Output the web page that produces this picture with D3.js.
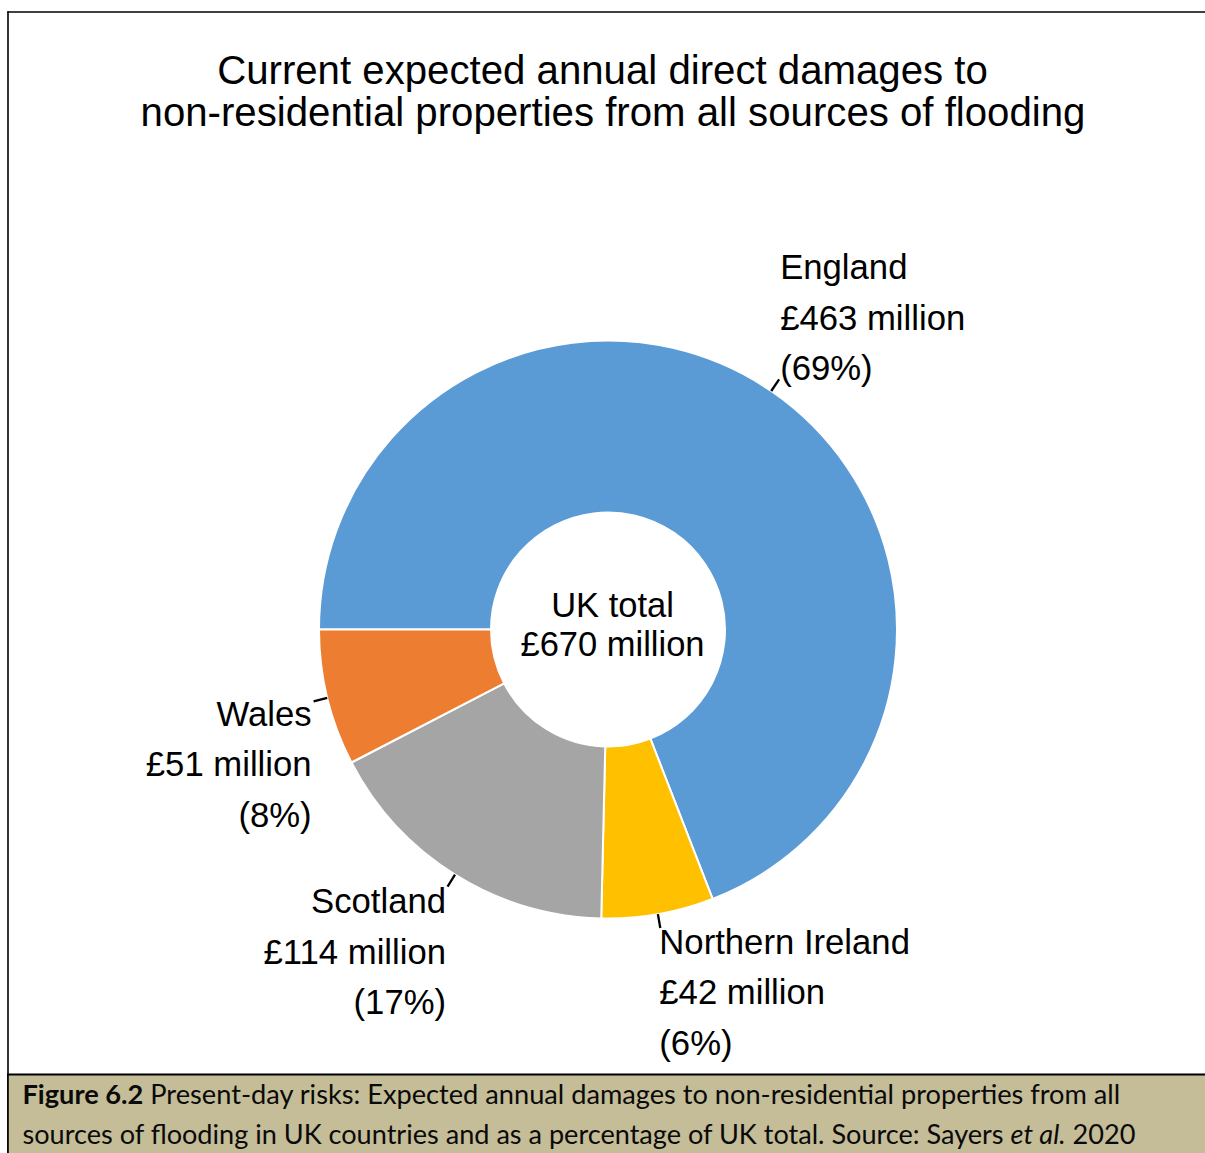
<!DOCTYPE html>
<html>
<head>
<meta charset="utf-8">
<script src="https://cdn.jsdelivr.net/npm/d3@7"></script>
<style>
  html, body { margin: 0; padding: 0; background: #fff; }
  svg { display: block; }
</style>
</head>
<body>
<svg id="chart" width="1205" height="1153"></svg>
<script>
// Expected annual direct damages to non-residential properties, £ million
const countries = ["England", "Northern Ireland", "Scotland", "Wales"];
const damages = [463, 42, 114, 51];
const shareLabels = ["69%", "6%", "17%", "8%"];
const colours = ["#5B9BD5", "#FFC000", "#A5A5A5", "#ED7D31"];
const totalLines = ["UK total", "£670 million"];
const titleLines = [
  "Current expected annual direct damages to",
  "non-residential properties from all sources of flooding"
];

const W = 1205, H = 1153;
const cx = 608, cy = 629.5;
const outerR = 289, innerR = 117;
const leaderLen = 14;
const lineGap = 50.5;

const svg = d3.select("#chart");
const font = "'Liberation Sans', Arial, sans-serif";

// frame: top and left rules
svg.append("line").attr("x1", 7.5).attr("x2", W).attr("y1", 12).attr("y2", 12)
  .attr("stroke", "#000").attr("stroke-width", 1.6);
svg.append("line").attr("x1", 8).attr("x2", 8).attr("y1", 11.2).attr("y2", H)
  .attr("stroke", "#000").attr("stroke-width", 1.6);

// title
svg.append("g").selectAll("text").data(titleLines).join("text")
  .attr("x", (d, i) => i === 0 ? 602.5 : 613)
  .attr("y", (d, i) => 83.5 + i * 42)
  .attr("text-anchor", "middle")
  .attr("font-family", font)
  .attr("font-size", 40.2)
  .attr("fill", "#000")
  .text(d => d);

// donut
const pie = d3.pie().sort(null).value(d => d)
  .startAngle(-Math.PI / 2).endAngle(3 * Math.PI / 2);
const arcs = pie(damages);
const arc = d3.arc().innerRadius(innerR).outerRadius(outerR);

const g = svg.append("g").attr("transform", `translate(${cx},${cy})`);
g.selectAll("path").data(arcs).join("path")
  .attr("d", arc)
  .attr("fill", (d, i) => colours[i])
  .attr("stroke", "#fff")
  .attr("stroke-width", 2)
  .attr("stroke-linejoin", "round");

// leader lines, radial from the outer edge at each slice's mid angle
const mid = d => (d.startAngle + d.endAngle) / 2;
const polar = (a, r) => [Math.sin(a) * r, -Math.cos(a) * r];
g.selectAll("line.leader").data(arcs).join("line")
  .attr("class", "leader")
  .attr("x1", d => polar(mid(d), outerR)[0])
  .attr("y1", d => polar(mid(d), outerR)[1])
  .attr("x2", d => polar(mid(d), outerR + leaderLen)[0])
  .attr("y2", d => polar(mid(d), outerR + leaderLen)[1])
  .attr("stroke", "#000")
  .attr("stroke-width", 2.3);

// label placement relative to each leader end
const labelPlace = [
  { anchor: "start", dx: 1, dy: 1 - 2 * lineGap },   // above-right
  { anchor: "start", dx: -1, dy: 26 },               // below-right
  { anchor: "end", dx: -1.5, dy: 26.5 },             // below-left
  { anchor: "end", dx: -2, dy: 24.5 }                // below-left
];

g.selectAll("text.label").data(arcs).join("text")
  .attr("class", "label")
  .attr("font-family", font)
  .attr("font-size", 34.7)
  .attr("fill", "#000")
  .attr("text-anchor", (d, i) => labelPlace[i].anchor)
  .each(function (d, i) {
    const end = polar(mid(d), outerR + leaderLen);
    const p = labelPlace[i];
    const lines = [countries[i], `£${damages[i]} million`, `(${shareLabels[i]})`];
    d3.select(this).selectAll("tspan").data(lines).join("tspan")
      .attr("x", end[0] + p.dx)
      .attr("y", (t, k) => end[1] + p.dy + k * lineGap)
      .text(t => t);
  });

// centre total
g.append("text")
  .attr("text-anchor", "middle")
  .attr("font-family", font)
  .attr("font-size", 34.5)
  .attr("fill", "#000")
  .selectAll("tspan").data(totalLines).join("tspan")
  .attr("x", 4.5)
  .attr("y", (d, i) => -13 + i * 39.5)
  .text(d => d);

// caption band
const capTop = 1074.5;
svg.append("rect").attr("x", 8).attr("y", capTop).attr("width", W - 8).attr("height", H - capTop)
  .attr("fill", "#C4BD97");
svg.append("line").attr("x1", 7).attr("x2", W).attr("y1", capTop).attr("y2", capTop)
  .attr("stroke", "#000").attr("stroke-width", 2);
svg.append("line").attr("x1", 8).attr("x2", 8).attr("y1", capTop).attr("y2", H)
  .attr("stroke", "#000").attr("stroke-width", 1.6);

const capFont = "Lato, 'Open Sans', sans-serif";
const cap1 = svg.append("text").attr("x", 22.5).attr("y", 1104)
  .attr("font-family", capFont).attr("font-size", 27.2).attr("fill", "#0a0a0a");
cap1.append("tspan").attr("font-weight", "bold").text("Figure 6.2");
cap1.append("tspan").text(" Present-day risks: Expected annual damages to non-residential properties from all");

const cap2 = svg.append("text").attr("x", 22.5).attr("y", 1144)
  .attr("font-family", capFont).attr("font-size", 27.1).attr("fill", "#0a0a0a");
cap2.append("tspan").text("sources of flooding in UK countries and as a percentage of UK total. Source: Sayers ");
cap2.append("tspan").attr("font-style", "italic").text("et al.");
cap2.append("tspan").text(" 2020");
</script>
</body>
</html>
